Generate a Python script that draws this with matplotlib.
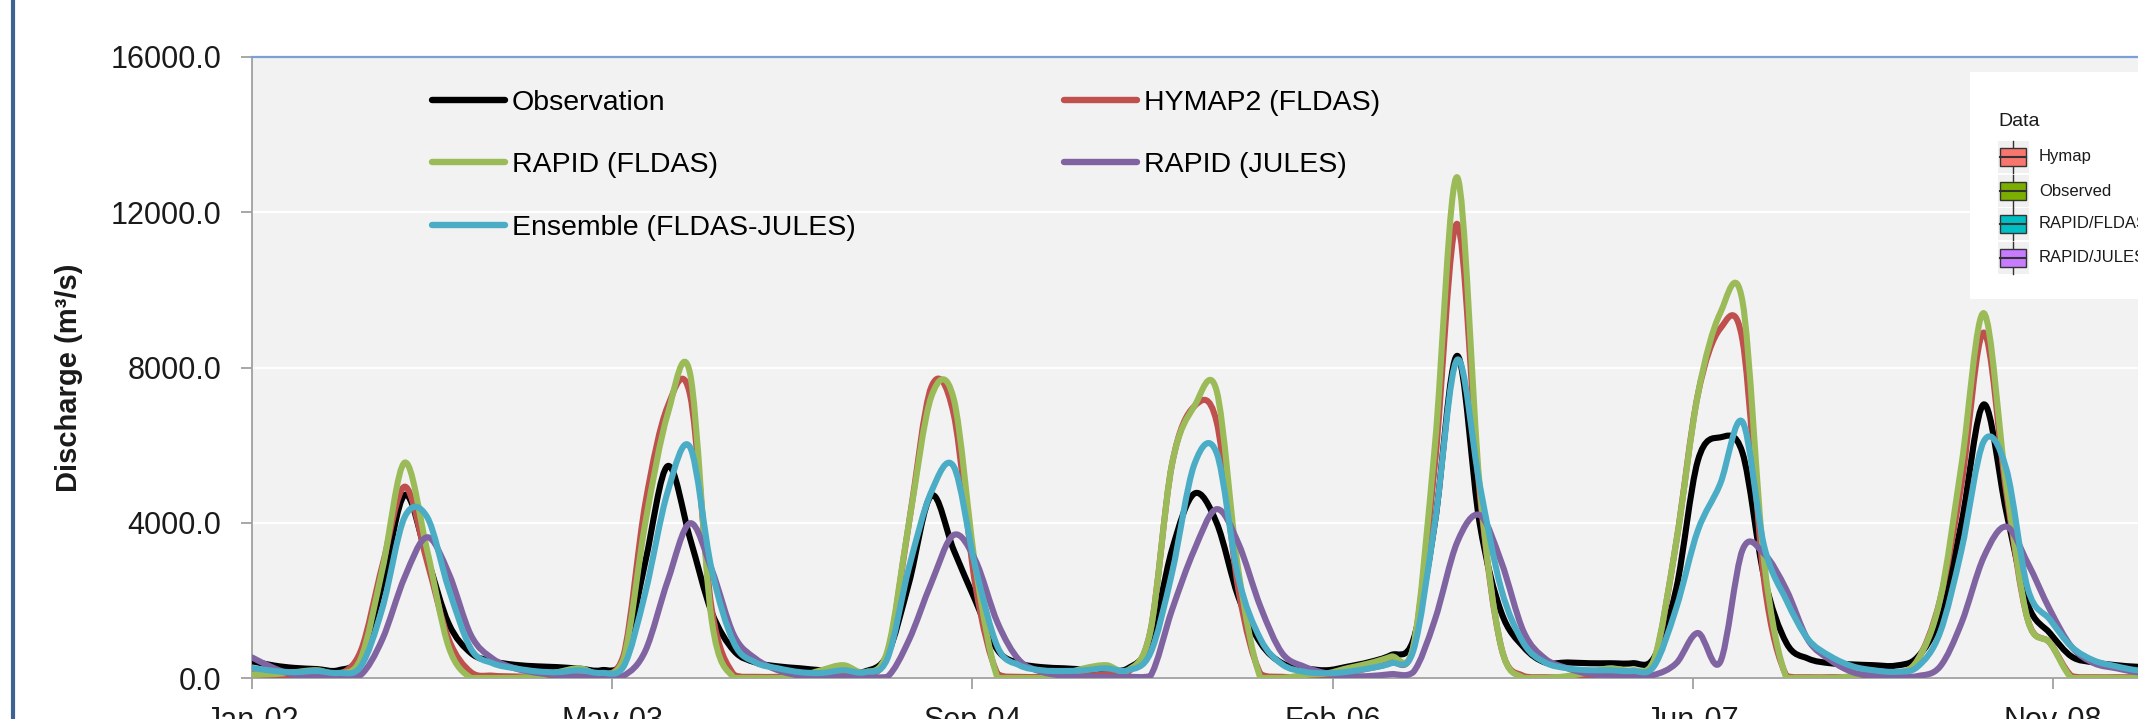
import matplotlib
matplotlib.use('Agg')
import matplotlib.pyplot as plt
import matplotlib.dates as mdates
from matplotlib.path import Path
from matplotlib.patches import PathPatch, Rectangle
from matplotlib.lines import Line2D
import pandas as pd

plt.rcParams['font.family'] = ['Liberation Sans', 'DejaVu Sans']

# ---------------- data (monthly, first of month) ----------------
months = pd.date_range('2002-01-01', periods=88, freq='MS')

observation = [
    430, 320, 260, 230, 200, 560, 2400, 4716, 3100, 1400, 640, 430,
    340, 300, 280, 240, 200, 500, 3000, 5460, 3600, 1700, 700, 400,
    300, 250, 200, 180, 170, 600, 2450, 4700, 3300, 2000, 720, 380,
    280, 250, 220, 200, 250, 900, 3300, 4750, 4000, 2100, 900, 380,
    250, 200, 290, 410, 590, 980, 4000, 8300, 4000, 1700, 800, 400,
    400, 380, 380, 380, 520, 2300, 5600, 6200, 5800, 2600, 900, 500,
    380, 350, 330, 320, 540, 1570, 4000, 7050, 4300, 1900, 1150, 550,
    400, 330, 290, 280]

hymap2_fldas = [
    100, 60, 50, 60, 80, 700, 2900, 4930, 3000, 1000, 150, 60,
    40, 30, 30, 40, 60, 600, 4500, 7000, 7300, 1800, 80, 30,
    30, 30, 30, 100, 100, 600, 4000, 7500, 6800, 2400, 100, 30,
    30, 30, 50, 100, 150, 1200, 5500, 7000, 6600, 2300, 100, 30,
    30, 50, 150, 250, 400, 800, 5500, 11700, 4800, 800, 50, 20,
    20, 50, 150, 100, 400, 3500, 7300, 9000, 8700, 2500, 50, 20,
    20, 30, 50, 80, 460, 2000, 5000, 8900, 4800, 1500, 900, 50,
    20, 20, 20, 20]

rapid_fldas = [
    85, 100, 150, 200, 120, 500, 2800, 5550, 3300, 800, 0, 0,
    0, 50, 150, 250, 100, 500, 4000, 6800, 7850, 1500, 0, 0,
    0, 50, 200, 330, 150, 700, 4000, 7250, 7200, 2900, 0, 0,
    0, 100, 250, 330, 200, 1200, 5500, 7000, 7400, 2800, 0, 0,
    77, 120, 250, 380, 550, 800, 6000, 12900, 5000, 800, 0, 0,
    50, 150, 250, 200, 460, 3500, 7300, 9400, 9700, 3000, 0, 0,
    0, 50, 150, 130, 460, 2000, 5500, 9400, 5000, 1500, 900, 0,
    0, 0, 0, 0]

rapid_jules = [
    530, 250, 80, 40, 30, 80, 1000, 2600, 3627, 2700, 1100, 500,
    250, 130, 80, 40, 30, 60, 700, 2500, 3987, 2800, 1100, 500,
    200, 60, 30, 25, 25, 30, 980, 2450, 3685, 3040, 1420, 460,
    160, 60, 30, 30, 30, 50, 1750, 3300, 4350, 3480, 1830, 640,
    290, 120, 50, 50, 100, 150, 1500, 3500, 4200, 3000, 1200, 500,
    250, 100, 80, 70, 80, 380, 1160, 410, 3300, 3200, 2270, 980,
    460, 150, 60, 40, 50, 290, 1420, 3120, 3900, 2960, 1750, 800,
    380, 250, 150, 100]

ensemble = [
    260, 180, 150, 180, 130, 300, 1800, 4150, 4150, 2300, 750, 380,
    250, 170, 150, 200, 130, 300, 2200, 4800, 5950, 2800, 900, 400,
    250, 150, 130, 200, 150, 500, 2850, 4800, 5450, 2870, 800, 330,
    200, 180, 200, 250, 200, 640, 2700, 5500, 5800, 2600, 1000, 350,
    160, 120, 160, 250, 380, 700, 4000, 8200, 5000, 2300, 900, 400,
    250, 200, 200, 180, 300, 1800, 3800, 5000, 6600, 3400, 2000, 1000,
    560, 300, 200, 160, 290, 1160, 3300, 6100, 5400, 2300, 1500, 800,
    450, 300, 200, 150]

series_labels = ['Observation', 'HYMAP2 (FLDAS)', 'RAPID (FLDAS)',
                 'RAPID (JULES)', 'Ensemble (FLDAS-JULES)']
series_colors = ['#000000', '#c0504d', '#9bbb59', '#8064a2', '#4bacc6']
series_values = [observation, hymap2_fldas, rapid_fldas, rapid_jules, ensemble]

xtick_dates = ['2002-01-01', '2003-05-16', '2004-09-27',
               '2006-02-09', '2007-06-24', '2008-11-05']
xtick_labels = ['Jan-02', 'May-03', 'Sep-04', 'Feb-06', 'Jun-07', 'Nov-08']
ytick_values = [0, 4000, 8000, 12000, 16000]
ytick_labels = ['0.0', '4000.0', '8000.0', '12000.0', '16000.0']

inset_labels = ['Hymap', 'Observed', 'RAPID/FLDAS', 'RAPID/JULES']
inset_colors = ['#F8766D', '#7CAE00', '#00BFC4', '#C77CFF']

# ---------------- figure ----------------
W, H = 2138, 719
fig = plt.figure(figsize=(W / 100, H / 100), dpi=100)
fig.patch.set_facecolor('white')

x0 = mdates.date2num(pd.Timestamp('2002-01-01'))
x1 = x0 + 2922
ax = fig.add_axes([252 / W, 41 / H, 2105 / W, 621 / H])
ax.set_facecolor('#f2f2f2')
ax.set_xlim(x0, x1)
ax.set_ylim(0, 16000)


def smooth_path(xs, ys):
    """Excel-like smoothed line: cubic Bezier segments through the points."""
    n = len(xs)
    verts = [(xs[0], ys[0])]
    codes = [Path.MOVETO]
    for i in range(n - 1):
        a = max(i - 1, 0)
        b = min(i + 2, n - 1)
        c1 = (xs[i] + (xs[i + 1] - xs[a]) / 6.0,
              max(0.0, ys[i] + (ys[i + 1] - ys[a]) / 6.0))
        c2 = (xs[i + 1] - (xs[b] - xs[i]) / 6.0,
              max(0.0, ys[i + 1] - (ys[b] - ys[i]) / 6.0))
        verts += [c1, c2, (xs[i + 1], ys[i + 1])]
        codes += [Path.CURVE4] * 3
    return Path(verts, codes)


xnum = list(mdates.date2num(months))
LW = 4.4
for vals, col in zip(series_values, series_colors):
    p = PathPatch(smooth_path(xnum, list(map(float, vals))), fill=False,
                  edgecolor=col, lw=LW, capstyle='round', joinstyle='round',
                  zorder=3)
    ax.add_patch(p)

# axes styling
ax.set_yticks(ytick_values)
ax.set_yticklabels(ytick_labels)
ax.set_xticks(mdates.date2num(pd.to_datetime(xtick_dates)))
ax.set_xticklabels(xtick_labels)
ax.yaxis.grid(True, color='white', lw=1.6)
ax.set_axisbelow(True)
ax.spines['right'].set_visible(False)
ax.spines['top'].set_color('#7aa0d4')
ax.spines['top'].set_linewidth(1.6)
ax.spines['left'].set_color('#a0a0a0')
ax.spines['bottom'].set_color('#a0a0a0')
ax.spines['left'].set_linewidth(1.3)
ax.spines['bottom'].set_linewidth(1.3)
ax.tick_params(axis='both', direction='out', length=8, width=1.3,
               color='#a0a0a0', labelsize=22, labelcolor='#1a1a1a')
ax.tick_params(axis='y', pad=14)
ax.tick_params(axis='x', pad=12)
ax.set_ylabel('Discharge (m³/s)', fontsize=21, fontweight='bold',
              va='center', color='#1a1a1a')
ax.yaxis.set_label_coords(-0.087, 0.483)

# legends (two columns, placed separately)
handles = [Line2D([], [], color=c, lw=4.6, solid_capstyle='round')
           for c in series_colors]
leg_kw = dict(frameon=False, fontsize=20.5, handlelength=2.55,
              handletextpad=0.25, labelspacing=1.28, borderpad=0,
              borderaxespad=0, loc='upper left',
              bbox_transform=fig.transFigure)
leg1 = ax.legend([handles[0], handles[2], handles[4]],
                 [series_labels[0], series_labels[2], series_labels[4]],
                 bbox_to_anchor=(432 / W, 1 - 90 / H), **leg_kw)
ax.add_artist(leg1)
leg2 = ax.legend([handles[1], handles[3]],
                 [series_labels[1], series_labels[3]],
                 bbox_to_anchor=(1064 / W, 1 - 90 / H), **leg_kw)

# left dark border of the original slide
fig.add_artist(Line2D([13 / W, 13 / W], [0, 1], transform=fig.transFigure,
                      color='#3d6294', lw=3.0))


# pasted ggplot legend box (upper right)
def fx(x):
    return x / W


def fy(y):
    return 1 - y / H


fig.add_artist(Rectangle((fx(1970), fy(299)), 300 / W, 227 / H,
                         transform=fig.transFigure, facecolor='white',
                         edgecolor='none', zorder=5))
fig.text(fx(1998), fy(122), 'Data', fontsize=14, va='center', ha='left',
         color='#1a1a1a', zorder=6)
row_y = [157, 191, 224, 258]
for ry, col, lab in zip(row_y, inset_colors, inset_labels):
    fig.add_artist(Rectangle((fx(1998), fy(ry + 16)), 31 / W, 32 / H,
                             transform=fig.transFigure, facecolor='#f0f0f0',
                             edgecolor='none', zorder=6))
    fig.add_artist(Line2D([fx(2013), fx(2013)], [fy(ry - 16), fy(ry + 16)],
                          transform=fig.transFigure, color='#333333', lw=1.0,
                          zorder=7))
    fig.add_artist(Rectangle((fx(2000), fy(ry + 9)), 26 / W, 18 / H,
                             transform=fig.transFigure, facecolor=col,
                             edgecolor='#333333', lw=1.0, zorder=8))
    fig.add_artist(Line2D([fx(2000), fx(2026)], [fy(ry), fy(ry)],
                          transform=fig.transFigure, color='#333333', lw=1.5,
                          zorder=9))
    fig.text(fx(2039), fy(ry), lab, fontsize=12, va='center', ha='left',
             color='#1a1a1a', zorder=9)

fig.savefig('out.png', dpi=100)
